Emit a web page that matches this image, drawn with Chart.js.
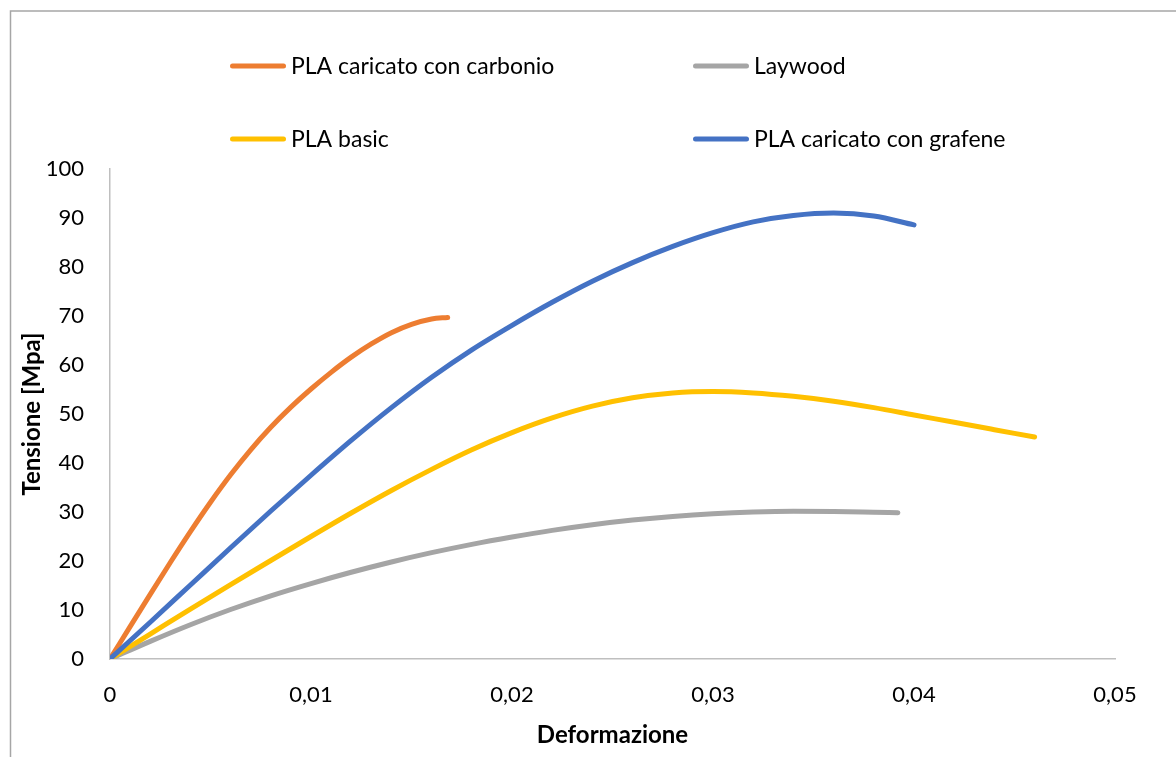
<!DOCTYPE html>
<html>
<head>
<meta charset="utf-8">
<script src="https://cdn.jsdelivr.net/npm/chart.js@4/dist/chart.umd.min.js"></script>
<style>
html,body{margin:0;padding:0;background:#fff;}
#wrap{width:1176px;height:757px;position:relative;}
</style>
</head>
<body>
<div id="wrap"><canvas id="c" width="1176" height="757"></canvas></div>
<script>
// ---- data ----
const seriesNames = ['PLA caricato con carbonio', 'Laywood', 'PLA basic', 'PLA caricato con grafene'];
const seriesColors = ['#ED7D31', '#A5A5A5', '#FFC000', '#4472C4'];

const carbonioStrain = [0, 0.001, 0.002, 0.003, 0.004, 0.005, 0.006, 0.007, 0.008, 0.009, 0.010, 0.011, 0.012, 0.013, 0.014, 0.015, 0.016, 0.0168];
const carbonioStress = [0, 6.6, 13.2, 19.7, 26.0, 32.0, 37.6, 42.7, 47.3, 51.4, 55.1, 58.5, 61.6, 64.3, 66.6, 68.3, 69.4, 69.7];

const laywoodStrain = [0, 0.002, 0.004, 0.006, 0.008, 0.010, 0.012, 0.014, 0.016, 0.018, 0.020, 0.022, 0.024, 0.026, 0.028, 0.030, 0.032, 0.034, 0.036, 0.038, 0.0392];
const laywoodStress = [0, 3.6, 7.0, 10.1, 12.9, 15.4, 17.7, 19.8, 21.7, 23.4, 24.9, 26.25, 27.4, 28.35, 29.1, 29.65, 30.0, 30.15, 30.1, 29.95, 29.85];

const basicStrain = [0, 0.002, 0.004, 0.006, 0.008, 0.010, 0.012, 0.014, 0.016, 0.018, 0.020, 0.022, 0.024, 0.026, 0.028, 0.030, 0.032, 0.034, 0.036, 0.038, 0.040, 0.042, 0.044, 0.046];
const basicStress = [0, 5.1, 10.2, 15.2, 20.1, 25.0, 29.8, 34.4, 38.7, 42.7, 46.2, 49.2, 51.6, 53.3, 54.3, 54.6, 54.3, 53.6, 52.6, 51.3, 49.8, 48.3, 46.8, 45.3];

const grafeneStrain = [0, 0.002, 0.004, 0.006, 0.008, 0.010, 0.012, 0.014, 0.016, 0.018, 0.020, 0.022, 0.024, 0.026, 0.028, 0.030, 0.032, 0.034, 0.036, 0.038, 0.040];
const grafeneStress = [0, 7.5, 15.1, 22.7, 30.2, 37.5, 44.6, 51.3, 57.5, 63.1, 68.1, 72.8, 77.1, 80.9, 84.2, 87.0, 89.2, 90.5, 91.0, 90.4, 88.6];

const xTickLabels = ['0', '0,01', '0,02', '0,03', '0,04', '0,05'];
const yTickLabels = ['0', '10', '20', '30', '40', '50', '60', '70', '80', '90', '100'];
const xTitle = 'Deformazione';
const yTitle = 'Tensione [Mpa]';

// ---- build ----
const strains = [carbonioStrain, laywoodStrain, basicStrain, grafeneStrain];
const stresses = [carbonioStress, laywoodStress, basicStress, grafeneStress];

const datasets = seriesNames.map((name, k) => ({
  label: name,
  data: strains[k].map((x, i) => ({x: x, y: stresses[k][i]})),
  borderColor: seriesColors[k],
  backgroundColor: seriesColors[k],
  borderWidth: 5,
  borderCapStyle: 'round',
  borderJoinStyle: 'round',
  pointRadius: 0,
  pointHoverRadius: 0,
  showLine: true,
  fill: false,
  cubicInterpolationMode: 'monotone',
  order: seriesNames.length - k
}));

const FONT = 'Lato, "Open Sans", sans-serif';

const bgPlugin = {
  id: 'bgBorder',
  beforeDraw(chart) {
    const ctx = chart.ctx;
    ctx.save();
    ctx.fillStyle = '#ffffff';
    ctx.fillRect(0, 0, chart.width, chart.height);
    ctx.strokeStyle = '#a6a6a6';
    ctx.lineWidth = 1.5;
    ctx.strokeRect(10.5, 11, chart.width + 20, chart.height + 20);
    ctx.restore();
  }
};

const gridLegend = {
  id: 'gridLegend',
  afterDraw(chart, args, opts) {
    const ctx = chart.ctx;
    ctx.save();
    ctx.font = opts.font;
    ctx.textBaseline = 'middle';
    ctx.textAlign = 'left';
    chart.data.datasets.forEach((ds, i) => {
      const col = i % opts.columns.length;
      const row = Math.floor(i / opts.columns.length);
      const x = opts.columns[col];
      const y = opts.rows[row];
      ctx.strokeStyle = ds.borderColor;
      ctx.lineWidth = opts.lineWidth;
      ctx.lineCap = 'round';
      ctx.beginPath();
      ctx.moveTo(x + opts.lineWidth / 2, y);
      ctx.lineTo(x + opts.lineLength - opts.lineWidth / 2, y);
      ctx.stroke();
      ctx.fillStyle = opts.color;
      ctx.fillText(ds.label, x + opts.lineLength + opts.gap, y + 1);
    });
    ctx.restore();
  }
};

function draw() {
  new Chart(document.getElementById('c'), {
    type: 'scatter',
    data: {datasets: datasets},
    plugins: [bgPlugin, gridLegend],
    options: {
      responsive: false,
      animation: false,
      devicePixelRatio: 1,
      layout: {padding: {top: 169, right: 61, left: 0, bottom: 0}},
      plugins: {
        legend: {display: false},
        tooltip: {enabled: false},
        gridLegend: {
          columns: [230, 693],
          rows: [66, 139],
          lineLength: 56,
          lineWidth: 5,
          gap: 5,
          font: '23px ' + FONT,
          color: '#000000'
        }
      },
      scales: {
        x: {
          type: 'linear',
          min: 0,
          max: 0.05,
          afterFit: s => { s.height = 98; },
          afterBuildTicks: s => { s.ticks = xTickLabels.map((t, i) => ({value: i * 0.01})); },
          ticks: {
            callback: (v, i) => xTickLabels[i],
            font: {family: FONT, size: 22},
            color: '#000000',
            padding: 23,
            maxRotation: 0,
            autoSkip: false
          },
          grid: {display: false, drawTicks: false},
          border: {display: true, color: '#bfbfbf', width: 1.5},
          title: {
            display: true,
            text: xTitle,
            font: {family: FONT, size: 24, weight: 'bold'},
            color: '#000000',
            padding: {top: 0, bottom: 7.5}
          }
        },
        y: {
          type: 'linear',
          min: 0,
          max: 100,
          afterFit: s => { s.width = 110; },
          afterBuildTicks: s => { s.ticks = yTickLabels.map((t, i) => ({value: i * 10})); },
          ticks: {
            callback: (v, i) => yTickLabels[i],
            font: {family: FONT, size: 22},
            color: '#000000',
            padding: 26,
            autoSkip: false
          },
          grid: {display: false, drawTicks: false},
          border: {display: true, color: '#bfbfbf', width: 1.5},
          title: {
            display: true,
            text: yTitle,
            font: {family: FONT, size: 24, weight: 'bold'},
            color: '#000000',
            padding: {top: 18, bottom: 0}
          }
        }
      }
    }
  });
}

if (document.fonts && document.fonts.load) {
  Promise.all([
    document.fonts.load('22px Lato'),
    document.fonts.load('bold 22px Lato')
  ]).then(draw, draw);
} else {
  draw();
}
</script>
</body>
</html>
